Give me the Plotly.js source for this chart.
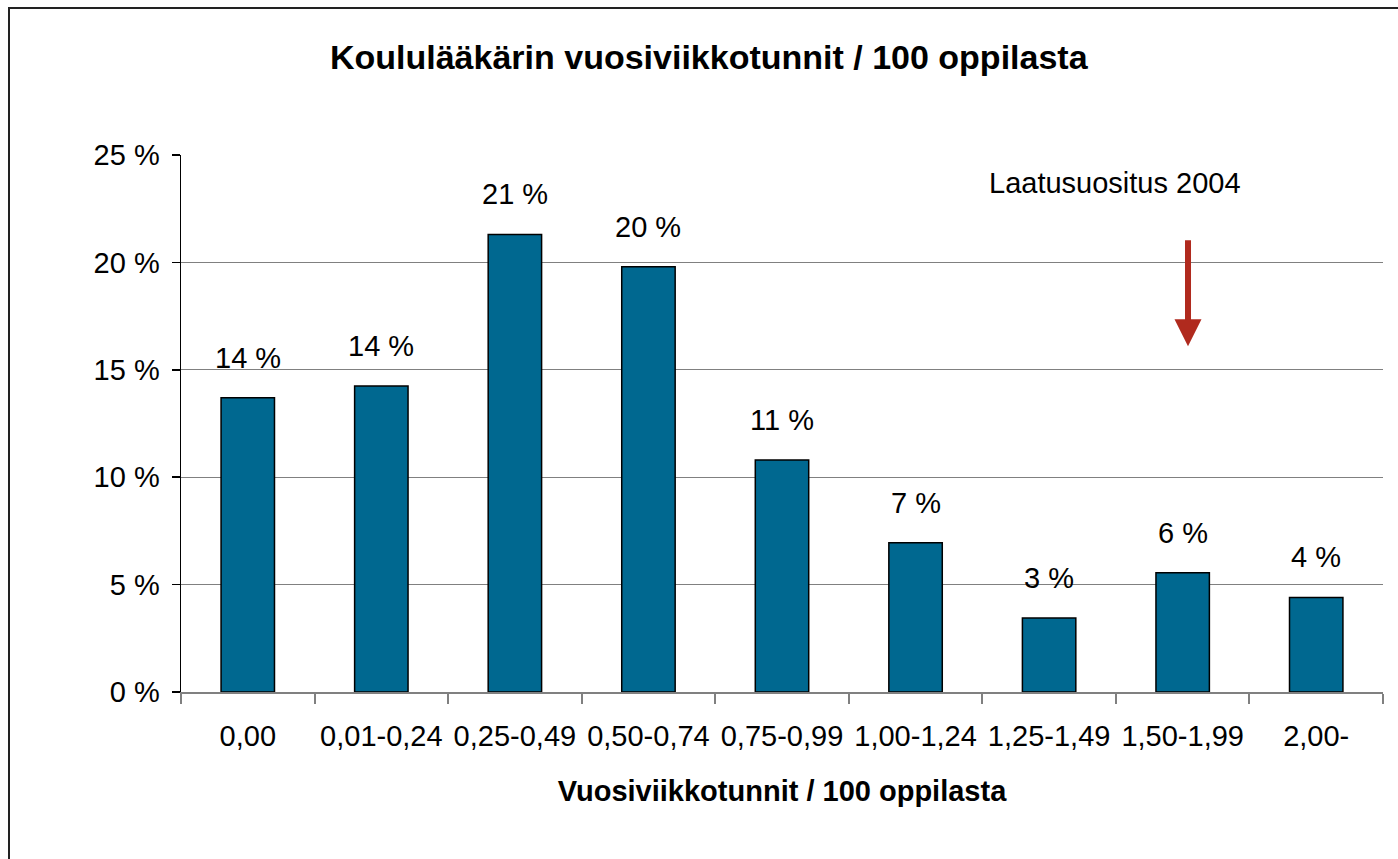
<!DOCTYPE html>
<html>
<head>
<meta charset="utf-8">
<script src="https://cdn.plot.ly/plotly-3.0.1.min.js"></script>
<style>
html,body{margin:0;padding:0;background:#fff;}
#wrap{position:relative;width:1398px;height:859px;}
#chart{width:1398px;height:859px;}
#frame{position:absolute;left:8px;top:7px;width:1390px;height:852px;border-left:2px solid #222;border-top:2px solid #222;pointer-events:none;}
</style>
</head>
<body>
<div id="wrap"><div id="chart"></div><div id="frame"></div></div>
<script>
var categories = ["0,00","0,01-0,24","0,25-0,49","0,50-0,74","0,75-0,99","1,00-1,24","1,25-1,49","1,50-1,99","2,00-"];
var shares = [13.7, 14.25, 21.3, 19.8, 10.8, 6.95, 3.45, 5.55, 4.4];
var yTicks = [0, 5, 10, 15, 20, 25];
var titleText = "Koululääkärin vuosiviikkotunnit / 100 oppilasta";
var xTitleText = "Vuosiviikkotunnit / 100 oppilasta";
var noteText = "Laatusuositus 2004";
var noteCategory = "1,50-1,99";
var arrowFrom = 21.1;
var arrowTo = 16.1;

var font = "Liberation Sans, Arial, sans-serif";
var fs = 29;

var trace = {
  type: "bar",
  x: categories,
  y: shares,
  width: 0.4,
  marker: {color: "#006890", line: {color: "#000", width: 1.5}},
  hoverinfo: "skip"
};

var annotations = shares.map(function(v, i){
  return {x: categories[i], y: v, xref: "x", yref: "y", text: Math.round(v) + " %",
    showarrow: false, yshift: 40, font: {family: font, size: fs, color: "#000"}};
});
annotations.push({x: 6.49, y: 23.7, xref: "x", yref: "y", text: noteText, showarrow: false,
  font: {family: font, size: fs, color: "#000"}});
annotations.push({x: 7.04, y: arrowTo, xref: "x", yref: "y", ax: 7.04, ay: arrowFrom,
  axref: "x", ayref: "y", text: "", showarrow: true, arrowhead: 2, arrowsize: 0.9, arrowwidth: 6,
  arrowcolor: "#B02A1E", standoff: 0});

var layout = {
  width: 1398, height: 859,
  margin: {l: 181, r: 15, t: 155, b: 167},
  paper_bgcolor: "#fff", plot_bgcolor: "#fff",
  showlegend: false,
  bargap: 0.6,
  title: {text: "<b>" + titleText + "</b>", font: {family: font, size: 34, color: "#000"},
    x: 0.507, xref: "container", xanchor: "center", y: 0.934, yref: "container", yanchor: "middle"},
  xaxis: {
    type: "category",
    showline: true, linecolor: "#808080", linewidth: 2,
    ticks: "outside", tickson: "boundaries", ticklen: 10, tickcolor: "#808080", tickwidth: 2,
    tickfont: {family: font, size: fs, color: "#000"},
    ticklabelstandoff: 17,
    showgrid: false, zeroline: false,
    title: {text: "<b>" + xTitleText + "</b>", font: {family: font, size: fs, color: "#000"}, standoff: 30},
    fixedrange: true
  },
  yaxis: {
    range: [0, 25], tickvals: yTicks, ticktext: yTicks.map(function(t){return t + " %";}),
    showline: true, linecolor: "#000", linewidth: 1.5,
    ticks: "outside", ticklen: 8, tickcolor: "#000", tickwidth: 1.5,
    tickfont: {family: font, size: fs, color: "#000"},
    ticklabelstandoff: 6,
    showgrid: true, gridcolor: "#808080", gridwidth: 1.2,
    zeroline: false, fixedrange: true
  },
  annotations: annotations
};

Plotly.newPlot("chart", [trace], layout, {displayModeBar: false, staticPlot: true});
</script>
</body>
</html>
